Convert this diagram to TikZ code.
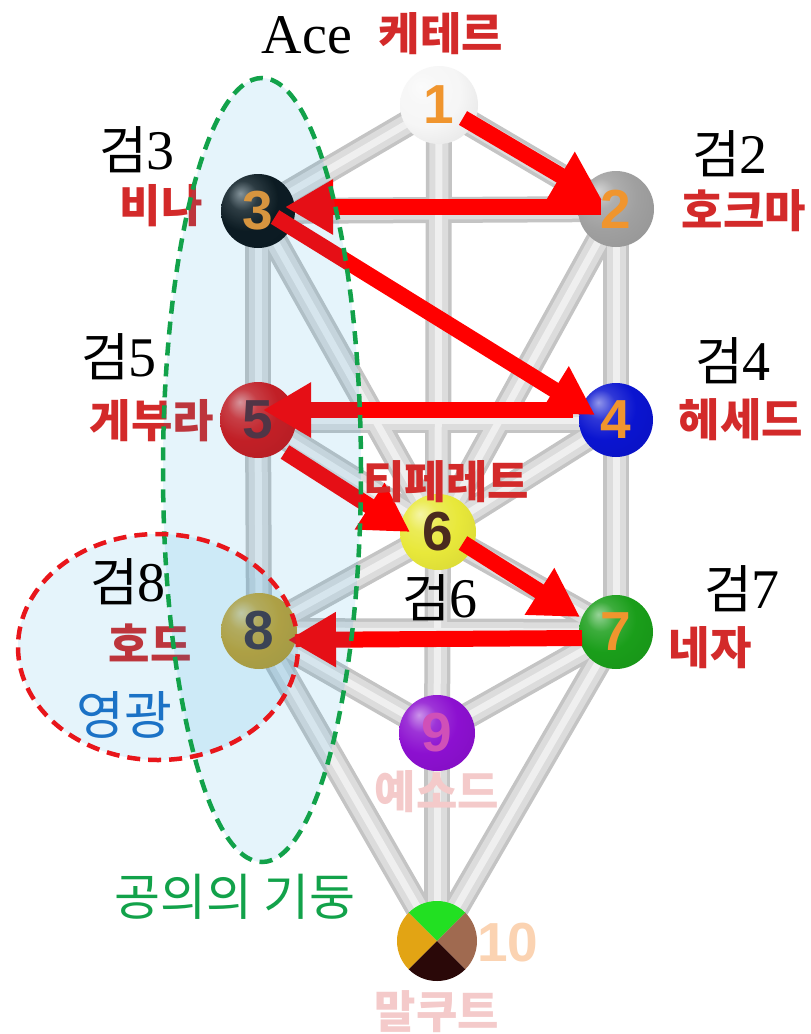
\documentclass[tikz,border=0pt]{standalone}
\usepackage{fontspec}
\usetikzlibrary{arrows.meta}
\newfontfamily\krfont{Noto Sans CJK KR}
\newfontfamily\serfont{Liberation Serif}
\newfontfamily\digfont{Liberation Sans}
\definecolor{labred}{HTML}{D32A2A}
\definecolor{arrred}{HTML}{FF0000}
\definecolor{tubeA}{HTML}{C4C4C4}
\definecolor{tubeB}{HTML}{DCDCDC}
\definecolor{tubeC}{HTML}{EFEFEF}
\definecolor{ballorange}{HTML}{F0952E}
\definecolor{pillgreen}{HTML}{12A24A}
\definecolor{dashred}{HTML}{E8161B}
\definecolor{fillblue}{RGB}{0,150,220}
\definecolor{glowblue}{HTML}{1B72C6}
\definecolor{fadepink}{HTML}{F4CACA}
\definecolor{fadeorange}{HTML}{FBD3B2}
\definecolor{colA}{HTML}{F6F6F6}
\definecolor{colB}{HTML}{A0A0A0}
\definecolor{colC}{HTML}{0E0E0E}
\definecolor{colD}{HTML}{0A14D0}
\definecolor{colE}{HTML}{D81212}
\definecolor{colF}{HTML}{E8E83A}
\definecolor{colG}{HTML}{1A9E1A}
\definecolor{colH}{HTML}{D8A422}
\definecolor{colI}{HTML}{8C10D0}
\definecolor{numE}{HTML}{5A2A35}
\definecolor{numF}{HTML}{4A2A1E}
\definecolor{numH}{HTML}{4A3035}
\definecolor{numI}{HTML}{D050B8}
\definecolor{qtop}{HTML}{22E022}
\definecolor{qleft}{HTML}{E2A414}
\definecolor{qright}{HTML}{A06A50}
\definecolor{qbot}{HTML}{2A0808}
\colorlet{mybc}{gray}
\pgfdeclareradialshading[mybc]{myball}{\pgfqpoint{-12bp}{12bp}}{%
  color(0bp)=(mybc!45!white); color(10bp)=(mybc!85!white); color(22bp)=(mybc);
  color(42bp)=(mybc!92!black); color(52bp)=(mybc!80!black); color(75bp)=(mybc!70!black)}
\newcommand\Geom[1]{{\krfont\fontsize{52}{52}\selectfont 검}{\serfont\fontsize{56}{56}\selectfont #1}}
\tikzset{
  ballnode/.style={circle, inner sep=0pt, minimum size=76pt,
    /utils/exec={\colorlet{mybc}{#1}}, shade, shading=myball,
    font=\digfont\bfseries\fontsize{55}{55}\selectfont},
  redlab/.style={inner sep=0pt, text=labred, font=\krfont\bfseries\fontsize{45}{45}\selectfont},
  gumlab/.style={inner sep=0pt, text=black},
  arr/.style={draw=arrred, line width=16pt, -{Triangle[length=48pt,width=52pt,color=arrred]}},
  tubeout/.style={line width=26pt, draw=tubeA},
  tubemid/.style={line width=19pt, draw=tubeB},
  tubein/.style={line width=7pt, draw=tubeC},
}
\begin{document}
\begin{tikzpicture}[x=1pt,y=-1pt]
\useasboundingbox (0,0) rectangle (811,1034);
\fill[white] (0,0) rectangle (811,1034);
% sephirot centres
\coordinate (c1) at (439,105);
\coordinate (c2) at (616,209);
\coordinate (c3) at (258,211);
\coordinate (c4) at (616,420);
\coordinate (c5) at (258,420);
\coordinate (c6) at (438,532);
\coordinate (c7) at (616,632);
\coordinate (c8) at (259,631);
\coordinate (c9) at (437,733);
\coordinate (c10) at (437,941);
% tubes
\foreach \a/\b in {1/2,1/3,1/6,2/3,2/4,2/6,3/5,3/6,4/5,4/6,4/7,5/6,5/8,6/7,6/8,6/9,7/8,7/9,7/10,8/9,8/10,9/10}
  \draw[tubeout] (c\a) -- (c\b);
\foreach \a/\b in {1/2,1/3,1/6,2/3,2/4,2/6,3/5,3/6,4/5,4/6,4/7,5/6,5/8,6/7,6/8,6/9,7/8,7/9,7/10,8/9,8/10,9/10}
  \draw[tubemid] (c\a) -- (c\b);
\foreach \a/\b in {1/2,1/3,1/6,2/3,2/4,2/6,3/5,3/6,4/5,4/6,4/7,5/6,5/8,6/7,6/8,6/9,7/8,7/9,7/10,8/9,8/10,9/10}
  \draw[tubein] (c\a) -- (c\b);
% balls
\node[ballnode=colA, minimum size=78pt, text=ballorange] (s1) at (c1) {1};
\node[ballnode=colB, text=ballorange] (s2) at (c2) {2};
\node[ballnode=colC, minimum size=74pt, text=ballorange] (s3) at (c3) {3};
\node[ballnode=colD, minimum size=74pt, text=ballorange] (s4) at (c4) {4};
\node[ballnode=colE, text=numE] (s5) at (c5) {5};
\node[ballnode=colF, text=numF] (s6) at (c6) {6};
\node[ballnode=colG, minimum size=74pt, text=ballorange] (s7) at (c7) {7};
\node[ballnode=colH, text=numH] (s8) at (c8) {8};
\node[ballnode=colI, text=numI] (s9) at (c9) {9};
\node[circle, inner sep=0pt, minimum size=80pt] (s10) at (c10) {};
\begin{scope}
  \clip (c10) circle (40pt);
  \fill[qtop] (c10) -- ++(-60,-60) -- ++(120,0) -- cycle;
  \fill[qleft] (c10) -- ++(-60,-60) -- ++(0,120) -- cycle;
  \fill[qright] (c10) -- ++(60,-60) -- ++(0,120) -- cycle;
  \fill[qbot] (c10) -- ++(-60,60) -- ++(120,0) -- cycle;
\end{scope}
% path arrows
\draw[arr] ([shift={(24,13)}]s1.center) -- ([shift={(-14,-9)}]s2.center);
\draw[arr] ([shift={(-15,-2)}]s2.center) -- ([shift={(27,-4)}]s3.center);
\draw[arr] ([shift={(17,6)}]s3.center) -- ([shift={(-21,-5)}]s4.center);
\draw[arr] ([shift={(-43,-10)}]s4.center) -- ([shift={(5,-10)}]s5.center);
\draw[arr] ([shift={(27,32)}]s5.center) -- ([shift={(-28,0)}]s6.center);
\draw[arr] ([shift={(25,11)}]s6.center) -- ([shift={(-36,-15)}]s7.center);
\draw[arr] ([shift={(-34,6)}]s7.center) -- ([shift={(29,9)}]s8.center);
% sephirot names
\node[redlab] (n1) at (441,34) {케테르};
\node[redlab] (n2) at (744,211) {호크마};
\node[redlab] (n3) at (161,206) {비나};
\node[redlab] (n4) at (741,420) {헤세드};
\node[redlab] (n5) at (152,421) {게부라};
\node[redlab] (n6) at (446,482) {티페레트};
\node[redlab] (n7) at (710,648) {네자};
\node[redlab] (n8) at (150,643) {호드};
\node[redlab, text=fadepink] (n9) at (437,792) {예소드};
\node[redlab, text=fadepink] (n10) at (437,1012) {말쿠트};
\node[inner sep=0pt, text=fadeorange, font=\digfont\bfseries\fontsize{55}{55}\selectfont] (t10) at (508,943) {10};
% overlays
\fill[fillblue, fill opacity=0.1] (262,470) ellipse [x radius=99pt, y radius=392pt];
\fill[fillblue, fill opacity=0.1] (158,647) ellipse [x radius=140pt, y radius=113pt];
\draw[pillgreen, line width=4.5pt, dash pattern=on 13pt off 8pt] (262,470) ellipse [x radius=99pt, y radius=392pt];
\draw[dashred, line width=4.5pt, dash pattern=on 13pt off 8pt] (158,647) ellipse [x radius=140pt, y radius=113pt];
% annotations
\node[inner sep=0pt, font=\serfont\fontsize{56}{56}\selectfont] (ace) at (307,35) {Ace};
\node[gumlab] (g3) at (137,150) {\Geom{3}};
\node[gumlab] (g2) at (730,154) {\Geom{2}};
\node[gumlab] (g5) at (119,357) {\Geom{5}};
\node[gumlab] (g4) at (733,361) {\Geom{4}};
\node[gumlab] (g8) at (128,582) {\Geom{8}};
\node[gumlab] (g6) at (440,598) {\Geom{6}};
\node[gumlab] (g7) at (742,589) {\Geom{7}};
\node[inner sep=0pt, text=glowblue, font=\krfont\fontsize{52}{52}\selectfont] (glory) at (124,715) {영광};
\node[inner sep=0pt, text=pillgreen, font=\krfont\fontsize{50}{50}\selectfont] (pillar) at (235,897) {공의의 기둥};
\end{tikzpicture}
\end{document}
